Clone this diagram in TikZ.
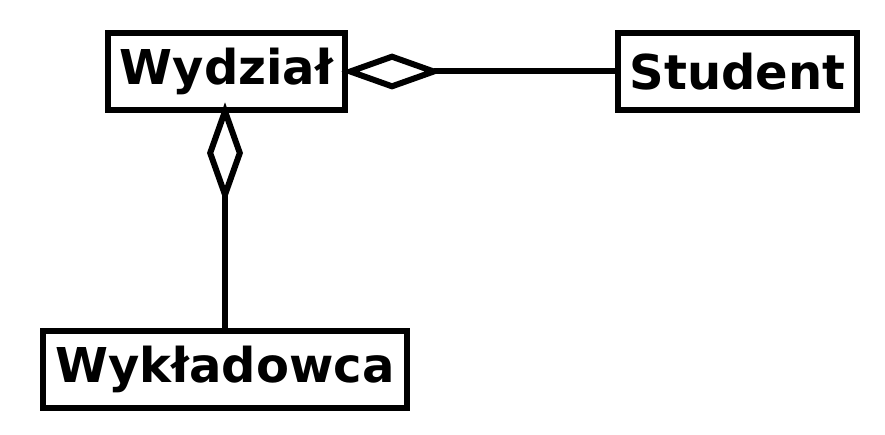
\documentclass[tikz,border=0pt]{standalone}
\usepackage{fontspec}
\setmainfont{DejaVu Sans}
\usepackage{tikz}
\usetikzlibrary{arrows.meta,positioning}

\begin{document}
\begin{tikzpicture}[x=0.75pt,y=-0.75pt,every node/.style={font=\bfseries\fontsize{36}{43}\selectfont,align=center},
  klasa/.style={draw,line width=4.5pt,minimum height=57.75pt,inner sep=0pt},
  agg/.style={line width=4.5pt,-{Diamond[open,length=76pt,width=27pt,line width=4.5pt]}}]
\useasboundingbox (0,0) rectangle (885,435);
\node[klasa,minimum width=177.75pt] (wydzial) at (226.5,71.5) {Wydział};
\node[klasa,minimum width=179.25pt] (student) at (737.5,71.5) {Student};
\node[klasa,minimum width=273pt] (wykladowca) at (225,369.5) {Wykładowca};
\draw[agg,shorten >=-5pt] (student.west) -- (wydzial.east);
\draw[agg,shorten >=-8pt] (wykladowca.north) -- (wykladowca.north |- wydzial.south);
\end{tikzpicture}
\end{document}
